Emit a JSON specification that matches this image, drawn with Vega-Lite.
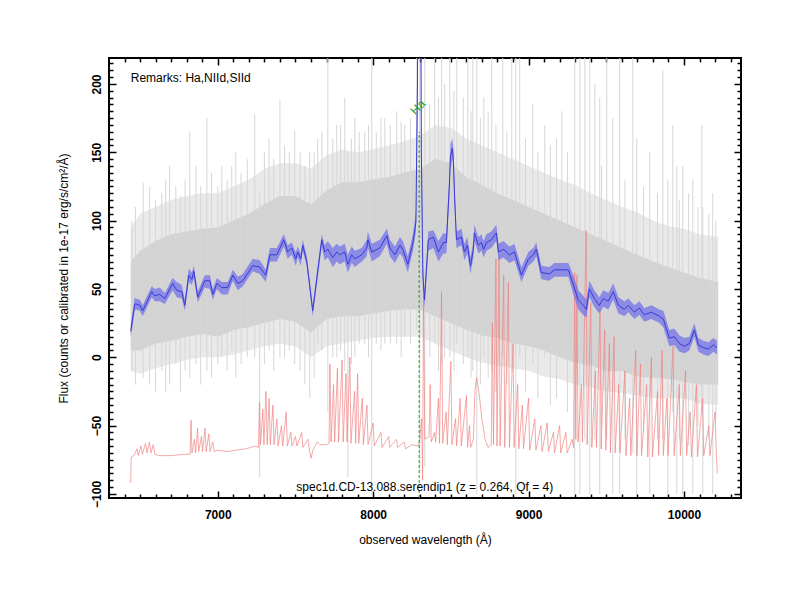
{
  "$schema": "https://vega.github.io/schema/vega-lite/v6.json",
  "description": "spec1d.CD-13.088.serendip1 spectrum",
  "width": 632,
  "height": 440,
  "autosize": {"type": "none"},
  "padding": {"left": 109, "top": 58, "right": 59, "bottom": 102},
  "background": "white",
  "config": {
    "view": {"stroke": "black", "strokeWidth": 2},
    "font": "Liberation Sans",
    "axis": {
      "labelFont": "Liberation Sans",
      "titleFont": "Liberation Sans",
      "labelFontSize": 12,
      "labelFontWeight": "bold",
      "labelColor": "black",
      "titleFontSize": 12,
      "titleFontWeight": "normal",
      "titleColor": "black",
      "tickColor": "black",
      "domain": false,
      "grid": false,
      "zindex": 1
    }
  },
  "datasets": {
    "gray": [
      {"wl": 6440, "olo": -10, "ohi": 95, "ilo": 5, "ihi": 70},
      {"wl": 6500, "olo": -12, "ohi": 105, "ilo": 5, "ihi": 78},
      {"wl": 6600, "olo": -8, "ohi": 110, "ilo": 10, "ihi": 85},
      {"wl": 6700, "olo": -5, "ohi": 115, "ilo": 12, "ihi": 90},
      {"wl": 6800, "olo": -2, "ohi": 118, "ilo": 15, "ihi": 92},
      {"wl": 6900, "olo": 0, "ohi": 120, "ilo": 17, "ihi": 94},
      {"wl": 7000, "olo": 0, "ohi": 120, "ilo": 15, "ihi": 95},
      {"wl": 7100, "olo": 2, "ohi": 125, "ilo": 20, "ihi": 100},
      {"wl": 7200, "olo": 5, "ohi": 130, "ilo": 22, "ihi": 105},
      {"wl": 7300, "olo": 8, "ohi": 138, "ilo": 25, "ihi": 112},
      {"wl": 7400, "olo": 10, "ohi": 142, "ilo": 28, "ihi": 118},
      {"wl": 7500, "olo": 8, "ohi": 142, "ilo": 26, "ihi": 118},
      {"wl": 7600, "olo": 0, "ohi": 138, "ilo": 18, "ihi": 112},
      {"wl": 7700, "olo": 8, "ohi": 148, "ilo": 28, "ihi": 122},
      {"wl": 7800, "olo": 10, "ohi": 152, "ilo": 30, "ihi": 128},
      {"wl": 7900, "olo": 12, "ohi": 150, "ilo": 30, "ihi": 128},
      {"wl": 8000, "olo": 14, "ohi": 152, "ilo": 32, "ihi": 130},
      {"wl": 8100, "olo": 15, "ohi": 155, "ilo": 34, "ihi": 132},
      {"wl": 8200, "olo": 15, "ohi": 158, "ilo": 35, "ihi": 135},
      {"wl": 8300, "olo": 15, "ohi": 162, "ilo": 35, "ihi": 138},
      {"wl": 8400, "olo": 10, "ohi": 170, "ilo": 30, "ihi": 145},
      {"wl": 8500, "olo": 5, "ohi": 168, "ilo": 25, "ihi": 142},
      {"wl": 8600, "olo": 0, "ohi": 160, "ilo": 20, "ihi": 132},
      {"wl": 8700, "olo": -4, "ohi": 155, "ilo": 16, "ihi": 126},
      {"wl": 8800, "olo": -6, "ohi": 150, "ilo": 14, "ihi": 120},
      {"wl": 8900, "olo": -8, "ohi": 145, "ilo": 10, "ihi": 115},
      {"wl": 9000, "olo": -10, "ohi": 140, "ilo": 8, "ihi": 110},
      {"wl": 9100, "olo": -14, "ohi": 135, "ilo": 5, "ihi": 105},
      {"wl": 9200, "olo": -16, "ohi": 130, "ilo": 0, "ihi": 100},
      {"wl": 9300, "olo": -20, "ohi": 126, "ilo": -4, "ihi": 95},
      {"wl": 9400, "olo": -22, "ohi": 120, "ilo": -6, "ihi": 90},
      {"wl": 9500, "olo": -25, "ohi": 115, "ilo": -10, "ihi": 85},
      {"wl": 9600, "olo": -26, "ohi": 110, "ilo": -10, "ihi": 80},
      {"wl": 9700, "olo": -28, "ohi": 106, "ilo": -14, "ihi": 75},
      {"wl": 9800, "olo": -30, "ohi": 100, "ilo": -15, "ihi": 70},
      {"wl": 9900, "olo": -30, "ohi": 96, "ilo": -16, "ihi": 66},
      {"wl": 10000, "olo": -30, "ohi": 94, "ilo": -18, "ihi": 62},
      {"wl": 10100, "olo": -34, "ohi": 90, "ilo": -20, "ihi": 58},
      {"wl": 10220, "olo": -35, "ohi": 88, "ilo": -20, "ihi": 55}
    ],
    "spikes": [
      {"wl": 6447, "lo": -10, "hi": 100}, {"wl": 6470, "lo": -20, "hi": 110}, {"wl": 6520, "lo": -15, "hi": 128},
      {"wl": 6562, "lo": -20, "hi": 125}, {"wl": 6600, "lo": -25, "hi": 115}, {"wl": 6640, "lo": -10, "hi": 120},
      {"wl": 6665, "lo": -25, "hi": 130}, {"wl": 6690, "lo": -20, "hi": 140}, {"wl": 6730, "lo": -5, "hi": 125},
      {"wl": 6760, "lo": -25, "hi": 118}, {"wl": 6790, "lo": -10, "hi": 130}, {"wl": 6820, "lo": -15, "hi": 165},
      {"wl": 6860, "lo": -5, "hi": 140}, {"wl": 6890, "lo": -20, "hi": 125}, {"wl": 6930, "lo": -10, "hi": 175},
      {"wl": 6960, "lo": -15, "hi": 135}, {"wl": 7000, "lo": -5, "hi": 125}, {"wl": 7026, "lo": 0, "hi": 140},
      {"wl": 7060, "lo": -10, "hi": 130}, {"wl": 7090, "lo": 5, "hi": 140}, {"wl": 7116, "lo": -15, "hi": 150},
      {"wl": 7150, "lo": -5, "hi": 135}, {"wl": 7190, "lo": 0, "hi": 145}, {"wl": 7238, "lo": 0, "hi": 178},
      {"wl": 7270, "lo": -88, "hi": 120}, {"wl": 7300, "lo": -5, "hi": 150}, {"wl": 7330, "lo": 5, "hi": 160},
      {"wl": 7360, "lo": -10, "hi": 145}, {"wl": 7400, "lo": 0, "hi": 188}, {"wl": 7430, "lo": 0, "hi": 155},
      {"wl": 7460, "lo": 5, "hi": 150}, {"wl": 7495, "lo": -5, "hi": 166}, {"wl": 7530, "lo": -10, "hi": 150},
      {"wl": 7560, "lo": -20, "hi": 140}, {"wl": 7592, "lo": -30, "hi": 150}, {"wl": 7620, "lo": -15, "hi": 150},
      {"wl": 7643, "lo": 10, "hi": 160}, {"wl": 7670, "lo": 5, "hi": 165}, {"wl": 7708, "lo": -40, "hi": 225},
      {"wl": 7740, "lo": 0, "hi": 160}, {"wl": 7766, "lo": 0, "hi": 170}, {"wl": 7790, "lo": 5, "hi": 170},
      {"wl": 7817, "lo": -10, "hi": 190}, {"wl": 7837, "lo": -88, "hi": 150}, {"wl": 7860, "lo": -5, "hi": 160},
      {"wl": 7882, "lo": 0, "hi": 175}, {"wl": 7910, "lo": 10, "hi": 165}, {"wl": 7946, "lo": 10, "hi": 165},
      {"wl": 7970, "lo": 0, "hi": 170}, {"wl": 7991, "lo": -100, "hi": 225}, {"wl": 8020, "lo": 10, "hi": 165},
      {"wl": 8050, "lo": 5, "hi": 175}, {"wl": 8075, "lo": 10, "hi": 175}, {"wl": 8110, "lo": 10, "hi": 170},
      {"wl": 8152, "lo": 10, "hi": 180}, {"wl": 8180, "lo": 0, "hi": 172}, {"wl": 8203, "lo": 15, "hi": 170},
      {"wl": 8240, "lo": 10, "hi": 175}, {"wl": 8281, "lo": 20, "hi": 225}, {"wl": 8300, "lo": -85, "hi": 225},
      {"wl": 8332, "lo": -80, "hi": 225}, {"wl": 8364, "lo": 0, "hi": 185}, {"wl": 8396, "lo": 10, "hi": 225},
      {"wl": 8420, "lo": -10, "hi": 190}, {"wl": 8441, "lo": -5, "hi": 225}, {"wl": 8460, "lo": 0, "hi": 200},
      {"wl": 8493, "lo": 0, "hi": 225}, {"wl": 8520, "lo": -10, "hi": 195}, {"wl": 8538, "lo": 10, "hi": 225},
      {"wl": 8580, "lo": -5, "hi": 190}, {"wl": 8609, "lo": 0, "hi": 225}, {"wl": 8630, "lo": -15, "hi": 180},
      {"wl": 8641, "lo": -10, "hi": 225}, {"wl": 8667, "lo": -100, "hi": 225}, {"wl": 8690, "lo": -20, "hi": 175},
      {"wl": 8712, "lo": 0, "hi": 190}, {"wl": 8740, "lo": -15, "hi": 180}, {"wl": 8763, "lo": -10, "hi": 225},
      {"wl": 8790, "lo": -25, "hi": 170}, {"wl": 8834, "lo": 0, "hi": 225}, {"wl": 8860, "lo": -20, "hi": 165},
      {"wl": 8892, "lo": -10, "hi": 225}, {"wl": 8918, "lo": -100, "hi": 225}, {"wl": 8943, "lo": 0, "hi": 225},
      {"wl": 8980, "lo": -25, "hi": 160}, {"wl": 9027, "lo": -5, "hi": 185}, {"wl": 9060, "lo": -30, "hi": 150},
      {"wl": 9104, "lo": 0, "hi": 170}, {"wl": 9140, "lo": -35, "hi": 155}, {"wl": 9180, "lo": -30, "hi": 160},
      {"wl": 9214, "lo": 0, "hi": 180}, {"wl": 9250, "lo": -40, "hi": 150}, {"wl": 9297, "lo": -100, "hi": 225},
      {"wl": 9330, "lo": -100, "hi": 225}, {"wl": 9362, "lo": -60, "hi": 225}, {"wl": 9394, "lo": -100, "hi": 225},
      {"wl": 9426, "lo": -60, "hi": 200}, {"wl": 9458, "lo": -100, "hi": 190}, {"wl": 9470, "lo": -50, "hi": 140},
      {"wl": 9503, "lo": -60, "hi": 225}, {"wl": 9542, "lo": -100, "hi": 175}, {"wl": 9587, "lo": -100, "hi": 225},
      {"wl": 9620, "lo": -60, "hi": 130}, {"wl": 9671, "lo": -70, "hi": 225}, {"wl": 9696, "lo": -100, "hi": 160},
      {"wl": 9740, "lo": -55, "hi": 125}, {"wl": 9780, "lo": -100, "hi": 150}, {"wl": 9830, "lo": -60, "hi": 120},
      {"wl": 9864, "lo": -60, "hi": 210}, {"wl": 9896, "lo": -100, "hi": 130}, {"wl": 9928, "lo": -40, "hi": 170},
      {"wl": 9954, "lo": -100, "hi": 140}, {"wl": 9970, "lo": -60, "hi": 115}, {"wl": 9992, "lo": -100, "hi": 140},
      {"wl": 10030, "lo": -65, "hi": 120}, {"wl": 10057, "lo": -100, "hi": 130}, {"wl": 10090, "lo": -50, "hi": 110},
      {"wl": 10115, "lo": -40, "hi": 170}, {"wl": 10121, "lo": -100, "hi": 110}, {"wl": 10160, "lo": -60, "hi": 105},
      {"wl": 10185, "lo": -100, "hi": 120}, {"wl": 10205, "lo": -45, "hi": 100}
    ],
    "sky": [
      {"wl": 6440, "sky": -92}, {"wl": 6443, "sky": -73}, {"wl": 6460, "sky": -72}, {"wl": 6480, "sky": -67},
      {"wl": 6488, "sky": -72}, {"wl": 6505, "sky": -65}, {"wl": 6515, "sky": -71}, {"wl": 6535, "sky": -63},
      {"wl": 6545, "sky": -70}, {"wl": 6560, "sky": -62}, {"wl": 6570, "sky": -70}, {"wl": 6585, "sky": -64},
      {"wl": 6595, "sky": -71}, {"wl": 6620, "sky": -72}, {"wl": 6700, "sky": -72}, {"wl": 6780, "sky": -71},
      {"wl": 6822, "sky": -71}, {"wl": 6828, "sky": -46}, {"wl": 6834, "sky": -70}, {"wl": 6850, "sky": -60},
      {"wl": 6857, "sky": -70}, {"wl": 6870, "sky": -52}, {"wl": 6877, "sky": -69}, {"wl": 6895, "sky": -58},
      {"wl": 6902, "sky": -69}, {"wl": 6918, "sky": -52}, {"wl": 6925, "sky": -69}, {"wl": 6943, "sky": -56},
      {"wl": 6950, "sky": -69}, {"wl": 6968, "sky": -62}, {"wl": 6976, "sky": -69}, {"wl": 7000, "sky": -68},
      {"wl": 7060, "sky": -69}, {"wl": 7120, "sky": -68}, {"wl": 7180, "sky": -67}, {"wl": 7240, "sky": -65},
      {"wl": 7262, "sky": -66}, {"wl": 7268, "sky": -33}, {"wl": 7275, "sky": -64}, {"wl": 7290, "sky": -38},
      {"wl": 7297, "sky": -64}, {"wl": 7310, "sky": -25}, {"wl": 7318, "sky": -64}, {"wl": 7330, "sky": -30},
      {"wl": 7338, "sky": -64}, {"wl": 7355, "sky": -35}, {"wl": 7362, "sky": -64}, {"wl": 7380, "sky": -45},
      {"wl": 7388, "sky": -65}, {"wl": 7410, "sky": -50}, {"wl": 7418, "sky": -65}, {"wl": 7440, "sky": -40},
      {"wl": 7448, "sky": -65}, {"wl": 7470, "sky": -55}, {"wl": 7478, "sky": -65}, {"wl": 7500, "sky": -58},
      {"wl": 7510, "sky": -65}, {"wl": 7540, "sky": -55}, {"wl": 7548, "sky": -66}, {"wl": 7580, "sky": -60},
      {"wl": 7590, "sky": -68}, {"wl": 7600, "sky": -74}, {"wl": 7612, "sky": -68}, {"wl": 7640, "sky": -62},
      {"wl": 7660, "sky": -64}, {"wl": 7700, "sky": -64}, {"wl": 7716, "sky": -63}, {"wl": 7722, "sky": -5},
      {"wl": 7729, "sky": -62}, {"wl": 7745, "sky": -20}, {"wl": 7752, "sky": -62}, {"wl": 7770, "sky": -8},
      {"wl": 7777, "sky": -62}, {"wl": 7800, "sky": -2}, {"wl": 7807, "sky": -62}, {"wl": 7825, "sky": -12},
      {"wl": 7832, "sky": -62}, {"wl": 7850, "sky": 0}, {"wl": 7857, "sky": -63}, {"wl": 7880, "sky": -25},
      {"wl": 7887, "sky": -63}, {"wl": 7900, "sky": -12}, {"wl": 7907, "sky": -63}, {"wl": 7930, "sky": -30},
      {"wl": 7937, "sky": -64}, {"wl": 7960, "sky": -35}, {"wl": 7967, "sky": -64}, {"wl": 8000, "sky": -48},
      {"wl": 8007, "sky": -65}, {"wl": 8050, "sky": -55}, {"wl": 8057, "sky": -66}, {"wl": 8100, "sky": -58},
      {"wl": 8107, "sky": -66}, {"wl": 8150, "sky": -60}, {"wl": 8158, "sky": -66}, {"wl": 8200, "sky": -62},
      {"wl": 8208, "sky": -67}, {"wl": 8250, "sky": -64}, {"wl": 8290, "sky": -65}, {"wl": 8300, "sky": -60},
      {"wl": 8312, "sky": -45}, {"wl": 8318, "sky": -90}, {"wl": 8324, "sky": 45}, {"wl": 8332, "sky": -60},
      {"wl": 8360, "sky": -58}, {"wl": 8367, "sky": -20}, {"wl": 8374, "sky": -62}, {"wl": 8395, "sky": -55},
      {"wl": 8402, "sky": -62}, {"wl": 8420, "sky": -30}, {"wl": 8427, "sky": -63}, {"wl": 8440, "sky": 48},
      {"wl": 8447, "sky": -63}, {"wl": 8470, "sky": -40}, {"wl": 8477, "sky": -64}, {"wl": 8500, "sky": -3},
      {"wl": 8507, "sky": -64}, {"wl": 8530, "sky": -45}, {"wl": 8537, "sky": -65}, {"wl": 8560, "sky": -30},
      {"wl": 8567, "sky": -65}, {"wl": 8600, "sky": -28}, {"wl": 8607, "sky": -66}, {"wl": 8620, "sky": -50},
      {"wl": 8627, "sky": -66}, {"wl": 8645, "sky": -60}, {"wl": 8655, "sky": -25}, {"wl": 8665, "sky": -15},
      {"wl": 8680, "sky": -25}, {"wl": 8700, "sky": -45}, {"wl": 8720, "sky": -60}, {"wl": 8740, "sky": -66},
      {"wl": 8760, "sky": -64}, {"wl": 8767, "sky": 25}, {"wl": 8774, "sky": -64}, {"wl": 8790, "sky": 72},
      {"wl": 8797, "sky": -65}, {"wl": 8810, "sky": 75}, {"wl": 8817, "sky": -65}, {"wl": 8840, "sky": 60},
      {"wl": 8847, "sky": -66}, {"wl": 8870, "sky": 55}, {"wl": 8877, "sky": -66}, {"wl": 8900, "sky": 10},
      {"wl": 8907, "sky": -66}, {"wl": 8930, "sky": -20}, {"wl": 8937, "sky": -67}, {"wl": 8960, "sky": -35},
      {"wl": 8967, "sky": -67}, {"wl": 9000, "sky": -30}, {"wl": 9007, "sky": -68}, {"wl": 9040, "sky": -45},
      {"wl": 9047, "sky": -68}, {"wl": 9080, "sky": -50}, {"wl": 9087, "sky": -69}, {"wl": 9120, "sky": -48},
      {"wl": 9127, "sky": -69}, {"wl": 9160, "sky": -55}, {"wl": 9167, "sky": -70}, {"wl": 9200, "sky": -50},
      {"wl": 9207, "sky": -70}, {"wl": 9240, "sky": -55}, {"wl": 9248, "sky": -70}, {"wl": 9280, "sky": -60},
      {"wl": 9290, "sky": -66}, {"wl": 9297, "sky": 62}, {"wl": 9304, "sky": -60}, {"wl": 9311, "sky": 60},
      {"wl": 9318, "sky": -62}, {"wl": 9340, "sky": -20}, {"wl": 9347, "sky": -62}, {"wl": 9370, "sky": 93},
      {"wl": 9377, "sky": -64}, {"wl": 9400, "sky": 40}, {"wl": 9407, "sky": -66}, {"wl": 9430, "sky": -10},
      {"wl": 9437, "sky": -66}, {"wl": 9460, "sky": 35}, {"wl": 9467, "sky": -67}, {"wl": 9490, "sky": 20},
      {"wl": 9497, "sky": -68}, {"wl": 9520, "sky": 10}, {"wl": 9527, "sky": -70}, {"wl": 9550, "sky": 15},
      {"wl": 9557, "sky": -70}, {"wl": 9580, "sky": -20}, {"wl": 9588, "sky": -70}, {"wl": 9620, "sky": -10},
      {"wl": 9627, "sky": -72}, {"wl": 9650, "sky": -30}, {"wl": 9658, "sky": -72}, {"wl": 9690, "sky": 5},
      {"wl": 9697, "sky": -72}, {"wl": 9720, "sky": -5}, {"wl": 9727, "sky": -72}, {"wl": 9760, "sky": -20},
      {"wl": 9767, "sky": -73}, {"wl": 9790, "sky": 0}, {"wl": 9797, "sky": -73}, {"wl": 9830, "sky": -25},
      {"wl": 9837, "sky": -72}, {"wl": 9860, "sky": 5}, {"wl": 9867, "sky": -72}, {"wl": 9890, "sky": -30},
      {"wl": 9898, "sky": -72}, {"wl": 9930, "sky": 8}, {"wl": 9937, "sky": -72}, {"wl": 9970, "sky": -20},
      {"wl": 9977, "sky": -72}, {"wl": 10010, "sky": -10}, {"wl": 10017, "sky": -72}, {"wl": 10040, "sky": -40},
      {"wl": 10048, "sky": -73}, {"wl": 10080, "sky": -20}, {"wl": 10087, "sky": -73}, {"wl": 10120, "sky": -30},
      {"wl": 10127, "sky": -72}, {"wl": 10160, "sky": -50}, {"wl": 10167, "sky": -72}, {"wl": 10200, "sky": -40},
      {"wl": 10208, "sky": -70}, {"wl": 10214, "sky": -85}
    ],
    "smooth": [
      {"wl": 6440, "flux": 19, "lo": 14, "hi": 24}, {"wl": 6466, "flux": 39, "lo": 34, "hi": 44},
      {"wl": 6472, "flux": 39, "lo": 35, "hi": 43}, {"wl": 6498, "flux": 38, "lo": 34, "hi": 42},
      {"wl": 6517, "flux": 34, "lo": 30, "hi": 38}, {"wl": 6575, "flux": 48, "lo": 44, "hi": 52},
      {"wl": 6595, "flux": 45, "lo": 41, "hi": 50}, {"wl": 6627, "flux": 46, "lo": 41, "hi": 51},
      {"wl": 6659, "flux": 43, "lo": 39, "hi": 47}, {"wl": 6710, "flux": 54, "lo": 49, "hi": 58},
      {"wl": 6736, "flux": 49, "lo": 44, "hi": 55}, {"wl": 6768, "flux": 48, "lo": 43, "hi": 53},
      {"wl": 6788, "flux": 38, "lo": 34, "hi": 42}, {"wl": 6813, "flux": 60, "lo": 55, "hi": 65},
      {"wl": 6833, "flux": 57, "lo": 53, "hi": 62}, {"wl": 6846, "flux": 63, "lo": 58, "hi": 67},
      {"wl": 6871, "flux": 44, "lo": 40, "hi": 48}, {"wl": 6916, "flux": 56, "lo": 51, "hi": 60},
      {"wl": 6949, "flux": 56, "lo": 50, "hi": 60}, {"wl": 6968, "flux": 46, "lo": 42, "hi": 50},
      {"wl": 6994, "flux": 54, "lo": 50, "hi": 58}, {"wl": 7026, "flux": 51, "lo": 46, "hi": 55},
      {"wl": 7064, "flux": 51, "lo": 46, "hi": 55}, {"wl": 7097, "flux": 60, "lo": 56, "hi": 64},
      {"wl": 7129, "flux": 54, "lo": 49, "hi": 59}, {"wl": 7161, "flux": 56, "lo": 52, "hi": 61},
      {"wl": 7225, "flux": 67, "lo": 63, "hi": 72}, {"wl": 7270, "flux": 66, "lo": 61, "hi": 71},
      {"wl": 7309, "flux": 60, "lo": 55, "hi": 64}, {"wl": 7335, "flux": 75, "lo": 70, "hi": 80},
      {"wl": 7380, "flux": 75, "lo": 70, "hi": 80}, {"wl": 7425, "flux": 86, "lo": 81, "hi": 90},
      {"wl": 7450, "flux": 77, "lo": 72, "hi": 82}, {"wl": 7476, "flux": 80, "lo": 75, "hi": 84},
      {"wl": 7502, "flux": 72, "lo": 67, "hi": 77}, {"wl": 7515, "flux": 77, "lo": 73, "hi": 81},
      {"wl": 7534, "flux": 72, "lo": 67, "hi": 76}, {"wl": 7547, "flux": 82, "lo": 78, "hi": 86},
      {"wl": 7573, "flux": 70, "lo": 66, "hi": 74}, {"wl": 7611, "flux": 34, "lo": 30, "hi": 38},
      {"wl": 7669, "flux": 86, "lo": 81, "hi": 90}, {"wl": 7688, "flux": 77, "lo": 71, "hi": 82},
      {"wl": 7708, "flux": 79, "lo": 73, "hi": 85}, {"wl": 7740, "flux": 73, "lo": 66, "hi": 80},
      {"wl": 7766, "flux": 77, "lo": 70, "hi": 83}, {"wl": 7785, "flux": 75, "lo": 68, "hi": 81},
      {"wl": 7817, "flux": 77, "lo": 70, "hi": 83}, {"wl": 7837, "flux": 68, "lo": 62, "hi": 75},
      {"wl": 7862, "flux": 75, "lo": 69, "hi": 81}, {"wl": 7882, "flux": 72, "lo": 66, "hi": 78},
      {"wl": 7927, "flux": 75, "lo": 70, "hi": 80}, {"wl": 7959, "flux": 80, "lo": 74, "hi": 86},
      {"wl": 7966, "flux": 86, "lo": 80, "hi": 92}, {"wl": 7991, "flux": 77, "lo": 70, "hi": 83},
      {"wl": 8043, "flux": 80, "lo": 74, "hi": 86}, {"wl": 8088, "flux": 89, "lo": 83, "hi": 94},
      {"wl": 8107, "flux": 80, "lo": 74, "hi": 86}, {"wl": 8140, "flux": 75, "lo": 69, "hi": 81},
      {"wl": 8172, "flux": 82, "lo": 76, "hi": 88}, {"wl": 8191, "flux": 79, "lo": 73, "hi": 85},
      {"wl": 8223, "flux": 68, "lo": 62, "hi": 74}, {"wl": 8256, "flux": 84, "lo": 78, "hi": 90},
      {"wl": 8275, "flux": 99, "lo": 92, "hi": 106}, {"wl": 8285, "flux": 200, "lo": 180, "hi": 220},
      {"wl": 8292, "flux": 400, "lo": 360, "hi": 440}, {"wl": 8302, "flux": 400, "lo": 360, "hi": 440},
      {"wl": 8310, "flux": 150, "lo": 130, "hi": 170}, {"wl": 8320, "flux": 60, "lo": 52, "hi": 68},
      {"wl": 8330, "flux": 42, "lo": 36, "hi": 48}, {"wl": 8355, "flux": 86, "lo": 78, "hi": 92},
      {"wl": 8387, "flux": 88, "lo": 80, "hi": 93}, {"wl": 8420, "flux": 77, "lo": 70, "hi": 85},
      {"wl": 8452, "flux": 84, "lo": 76, "hi": 91}, {"wl": 8471, "flux": 84, "lo": 76, "hi": 90},
      {"wl": 8490, "flux": 125, "lo": 117, "hi": 133}, {"wl": 8497, "flux": 147, "lo": 138, "hi": 156},
      {"wl": 8510, "flux": 153, "lo": 145, "hi": 160}, {"wl": 8516, "flux": 144, "lo": 136, "hi": 152},
      {"wl": 8523, "flux": 120, "lo": 112, "hi": 128}, {"wl": 8536, "flux": 86, "lo": 80, "hi": 92},
      {"wl": 8568, "flux": 88, "lo": 82, "hi": 94}, {"wl": 8587, "flux": 77, "lo": 71, "hi": 83},
      {"wl": 8606, "flux": 82, "lo": 76, "hi": 88}, {"wl": 8626, "flux": 67, "lo": 61, "hi": 73},
      {"wl": 8645, "flux": 79, "lo": 73, "hi": 85}, {"wl": 8651, "flux": 91, "lo": 85, "hi": 97},
      {"wl": 8677, "flux": 82, "lo": 76, "hi": 88}, {"wl": 8697, "flux": 84, "lo": 78, "hi": 90},
      {"wl": 8710, "flux": 79, "lo": 73, "hi": 85}, {"wl": 8729, "flux": 84, "lo": 78, "hi": 90},
      {"wl": 8761, "flux": 86, "lo": 80, "hi": 92}, {"wl": 8793, "flux": 91, "lo": 85, "hi": 97},
      {"wl": 8806, "flux": 77, "lo": 71, "hi": 83}, {"wl": 8838, "flux": 79, "lo": 73, "hi": 85},
      {"wl": 8877, "flux": 75, "lo": 69, "hi": 81}, {"wl": 8909, "flux": 77, "lo": 71, "hi": 83},
      {"wl": 8954, "flux": 60, "lo": 55, "hi": 66}, {"wl": 8999, "flux": 72, "lo": 67, "hi": 77},
      {"wl": 9031, "flux": 75, "lo": 70, "hi": 80}, {"wl": 9050, "flux": 79, "lo": 74, "hi": 84},
      {"wl": 9082, "flux": 62, "lo": 57, "hi": 67}, {"wl": 9134, "flux": 61, "lo": 56, "hi": 66},
      {"wl": 9166, "flux": 64, "lo": 59, "hi": 69}, {"wl": 9211, "flux": 64, "lo": 59, "hi": 69},
      {"wl": 9256, "flux": 64, "lo": 59, "hi": 69}, {"wl": 9288, "flux": 53, "lo": 46, "hi": 60},
      {"wl": 9320, "flux": 42, "lo": 35, "hi": 49}, {"wl": 9352, "flux": 38, "lo": 31, "hi": 45},
      {"wl": 9372, "flux": 35, "lo": 29, "hi": 42}, {"wl": 9391, "flux": 50, "lo": 44, "hi": 56},
      {"wl": 9423, "flux": 43, "lo": 37, "hi": 49}, {"wl": 9455, "flux": 38, "lo": 32, "hi": 44},
      {"wl": 9481, "flux": 43, "lo": 37, "hi": 49}, {"wl": 9513, "flux": 41, "lo": 35, "hi": 47},
      {"wl": 9545, "flux": 48, "lo": 42, "hi": 54}, {"wl": 9578, "flux": 38, "lo": 32, "hi": 44},
      {"wl": 9616, "flux": 35, "lo": 30, "hi": 41}, {"wl": 9642, "flux": 38, "lo": 33, "hi": 43},
      {"wl": 9681, "flux": 33, "lo": 28, "hi": 38}, {"wl": 9713, "flux": 36, "lo": 31, "hi": 41},
      {"wl": 9745, "flux": 31, "lo": 26, "hi": 36}, {"wl": 9790, "flux": 33, "lo": 28, "hi": 38},
      {"wl": 9842, "flux": 30, "lo": 25, "hi": 35}, {"wl": 9867, "flux": 28, "lo": 22, "hi": 34},
      {"wl": 9906, "flux": 14, "lo": 8, "hi": 20}, {"wl": 9938, "flux": 15, "lo": 9, "hi": 21},
      {"wl": 9971, "flux": 10, "lo": 4, "hi": 16}, {"wl": 10003, "flux": 8, "lo": 3, "hi": 14},
      {"wl": 10035, "flux": 10, "lo": 5, "hi": 15}, {"wl": 10067, "flux": 20, "lo": 15, "hi": 25},
      {"wl": 10093, "flux": 9, "lo": 4, "hi": 14}, {"wl": 10125, "flux": 7, "lo": 2, "hi": 12},
      {"wl": 10157, "flux": 6, "lo": 1, "hi": 11}, {"wl": 10189, "flux": 9, "lo": 4, "hi": 14},
      {"wl": 10212, "flux": 7, "lo": 2, "hi": 12}
    ],
    "notes": [
      {"wl": 8296, "lo": -103, "hi": 165, "label": "Ha", "ly": 183, "lx": 8288}
    ],
    "texts": [
      {"wl": 6440, "y": 204, "label": "Remarks: Ha,NIId,SIId", "align": "left"},
      {"wl": 8332, "y": -95, "label": "spec1d.CD-13.088.serendip1 (z = 0.264, Qf = 4)", "align": "center"}
    ]
  },
  "resolve": {"axis": {"x": "independent", "y": "independent"}},
  "layer": [
    {
      "data": {"name": "gray"},
      "mark": {"type": "area", "color": "#e9e9e9", "clip": true},
      "encoding": {
        "x": {
          "field": "wl", "type": "quantitative",
          "scale": {"domain": [6300, 10367], "nice": false, "zero": false},
          "axis": {"orient": "bottom", "title": "observed wavelength (Å)", "values": [7000, 8000, 9000, 10000],
                   "format": "d", "tickSize": -7, "tickWidth": 1.5, "labelPadding": 18, "titlePadding": 14}
        },
        "y": {
          "field": "olo", "type": "quantitative",
          "scale": {"domain": [-103, 219], "nice": false, "zero": false},
          "axis": {"orient": "left", "title": "Flux (counts or calibrated in 1e-17 erg/s/cm²/Å)",
                   "values": [-100, -50, 0, 50, 100, 150, 200], "tickSize": -7, "tickWidth": 1.5,
                   "labelAngle": 270, "labelAlign": "center", "labelBaseline": "bottom", "labelPadding": 13,
                   "titlePadding": 20}
        },
        "y2": {"field": "ohi"}
      }
    },
    {
      "data": {"name": "gray"},
      "mark": {"type": "area", "color": "#d3d3d3", "clip": true},
      "encoding": {
        "x": {
          "field": "wl", "type": "quantitative",
          "axis": {"orient": "bottom", "title": null, "labels": false, "tickSize": -4, "tickWidth": 1.5,
                   "values": [6400, 6500, 6600, 6700, 6800, 6900, 7100, 7200, 7300, 7400, 7500, 7600, 7700, 7800, 7900, 8100, 8200, 8300, 8400, 8500, 8600, 8700, 8800, 8900, 9100, 9200, 9300, 9400, 9500, 9600, 9700, 9800, 9900, 10100, 10200, 10300]}
        },
        "y": {
          "field": "ilo", "type": "quantitative",
          "axis": {"orient": "left", "title": null, "labels": false, "tickSize": -4, "tickWidth": 1.5,
                   "values": [-95, -90, -85, -80, -75, -70, -65, -60, -55, -45, -40, -35, -30, -25, -20, -15, -10, -5, 5, 10, 15, 20, 25, 30, 35, 40, 45, 55, 60, 65, 70, 75, 80, 85, 90, 95, 105, 110, 115, 120, 125, 130, 135, 140, 145, 155, 160, 165, 170, 175, 180, 185, 190, 195, 205, 210, 215]}
        },
        "y2": {"field": "ihi"}
      }
    },
    {
      "data": {"name": "spikes"},
      "mark": {"type": "rule", "color": "#d6d6d6", "strokeWidth": 1, "clip": true},
      "encoding": {
        "x": {
          "field": "wl", "type": "quantitative",
          "axis": {"orient": "top", "title": null, "labels": false, "tickSize": -7, "tickWidth": 1.5,
                   "values": [7000, 8000, 9000, 10000]}
        },
        "y": {
          "field": "lo", "type": "quantitative",
          "axis": {"orient": "right", "title": null, "labels": false, "tickSize": -7, "tickWidth": 1.5,
                   "values": [-100, -50, 0, 50, 100, 150, 200]}
        },
        "y2": {"field": "hi"}
      }
    },
    {
      "data": {"name": "sky"},
      "mark": {"type": "line", "color": "#f08080", "strokeWidth": 0.8, "opacity": 0.85, "clip": true},
      "encoding": {
        "x": {
          "field": "wl", "type": "quantitative",
          "axis": {"orient": "top", "title": null, "labels": false, "tickSize": -4, "tickWidth": 1.5,
                   "values": [6400, 6500, 6600, 6700, 6800, 6900, 7100, 7200, 7300, 7400, 7500, 7600, 7700, 7800, 7900, 8100, 8200, 8300, 8400, 8500, 8600, 8700, 8800, 8900, 9100, 9200, 9300, 9400, 9500, 9600, 9700, 9800, 9900, 10100, 10200, 10300]}
        },
        "y": {
          "field": "sky", "type": "quantitative",
          "axis": {"orient": "right", "title": null, "labels": false, "tickSize": -4, "tickWidth": 1.5,
                   "values": [-95, -90, -85, -80, -75, -70, -65, -60, -55, -45, -40, -35, -30, -25, -20, -15, -10, -5, 5, 10, 15, 20, 25, 30, 35, 40, 45, 55, 60, 65, 70, 75, 80, 85, 90, 95, 105, 110, 115, 120, 125, 130, 135, 140, 145, 155, 160, 165, 170, 175, 180, 185, 190, 195, 205, 210, 215]}
        }
      }
    },
    {
      "data": {"name": "smooth"},
      "mark": {"type": "area", "color": "#7373ea", "opacity": 0.75, "clip": true},
      "encoding": {
        "x": {"field": "wl", "type": "quantitative", "axis": null},
        "y": {"field": "lo", "type": "quantitative", "axis": null},
        "y2": {"field": "hi"}
      }
    },
    {
      "data": {"name": "smooth"},
      "mark": {"type": "line", "color": "#3a3ad8", "strokeWidth": 1, "clip": true},
      "encoding": {
        "x": {"field": "wl", "type": "quantitative", "axis": null},
        "y": {"field": "flux", "type": "quantitative", "axis": null}
      }
    },
    {
      "data": {"name": "notes"},
      "mark": {"type": "rule", "color": "#22a022", "strokeWidth": 1, "strokeDash": [3, 2], "clip": true},
      "encoding": {
        "x": {"field": "wl", "type": "quantitative", "axis": null},
        "y": {"field": "lo", "type": "quantitative", "axis": null},
        "y2": {"field": "hi"}
      }
    },
    {
      "data": {"name": "notes"},
      "mark": {"type": "text", "color": "#22a022", "fontSize": 12, "angle": 315, "align": "center", "baseline": "middle"},
      "encoding": {
        "x": {"field": "lx", "type": "quantitative", "axis": null},
        "y": {"field": "ly", "type": "quantitative", "axis": null},
        "text": {"field": "label"}
      }
    },
    {
      "data": {"name": "texts"},
      "transform": [{"filter": "datum.align === 'left'"}],
      "mark": {"type": "text", "color": "black", "fontSize": 12, "align": "left", "baseline": "middle"},
      "encoding": {
        "x": {"field": "wl", "type": "quantitative", "axis": null},
        "y": {"field": "y", "type": "quantitative", "axis": null},
        "text": {"field": "label"}
      }
    },
    {
      "data": {"name": "texts"},
      "transform": [{"filter": "datum.align === 'center'"}],
      "mark": {"type": "text", "color": "black", "fontSize": 12, "align": "center", "baseline": "middle"},
      "encoding": {
        "x": {"field": "wl", "type": "quantitative", "axis": null},
        "y": {"field": "y", "type": "quantitative", "axis": null},
        "text": {"field": "label"}
      }
    }
  ]
}
